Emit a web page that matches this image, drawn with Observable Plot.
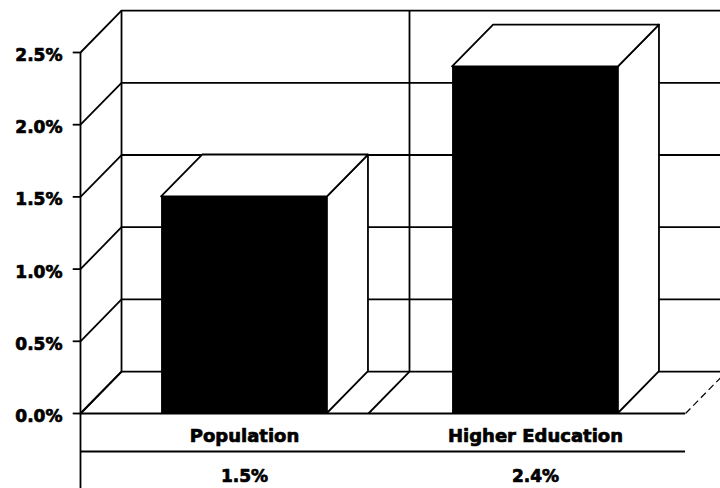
<!DOCTYPE html>
<html>
<head>
<meta charset="utf-8">
<script src="https://cdn.jsdelivr.net/npm/d3@7"></script>
<script src="https://cdn.jsdelivr.net/npm/@observablehq/plot@0.6"></script>
<style>
  html, body { margin: 0; padding: 0; background: #fff; }
  #chart svg { display: block; }
</style>
</head>
<body>
<div id="chart"></div>
<script>
// ---- data ----
const categories = ["Population", "Higher Education"];
const values = [1.5, 2.4];
const valueLabels = ["1.5%", "2.4%"];
const yTicks = [0, 0.5, 1.0, 1.5, 2.0, 2.5];
const yTickLabels = ["0.0%", "0.5%", "1.0%", "1.5%", "2.0%", "2.5%"];

// ---- 3D frame layout constants (in scale units) ----
const DX = 0.141;      // depth offset along x
const DY = 0.29;       // depth offset along y
const XL = -0.0636;    // left edge of floor / side wall
const XR = 2.0155;     // right edge of floor
const DIV = 0.926;     // floor divider between categories
const XFAR = 2.35;     // back wall runs off the right edge
const BW = 0.57;       // bar width
const YBOT = -0.54;    // axis line runs down through the table
const YTOP = 2.5;

const bars = categories.map((c, i) => ({
  category: c,
  value: values[i],
  label: valueLabels[i],
  cx: i + 0.5,
  a: i + 0.5 - BW / 2,
  b: i + 0.5 + BW / 2
}));
const sides = bars.flatMap(d => [
  {category: d.category, x: d.b, y1: 0, y2: d.value},
  {category: d.category, x: d.b + DX, y1: DY, y2: d.value + DY}
]);
const tops = bars.flatMap(d => [
  {category: d.category, y: d.value, x1: d.a, x2: d.b},
  {category: d.category, y: d.value + DY, x1: d.a + DX, x2: d.b + DX}
]);
const ticks = yTicks.map((v, i) => ({v, label: yTickLabels[i]}));

const SW = 1.8;
const font = "'DejaVu Sans', sans-serif";
const heavy = {fontWeight: "bold", fill: "black", stroke: "black", strokeWidth: 0.7};

const chart = Plot.plot({
  width: 720,
  height: 488,
  marginTop: 0, marginRight: 0, marginBottom: 0, marginLeft: 0,
  style: {background: "#fff", fontFamily: font},
  x: {type: "linear", domain: [0, 2], range: [98.5, 680.5], axis: null},
  y: {type: "linear", domain: [0, 2.5], range: [413, 52], axis: null},
  marks: [
    // back wall gridlines
    Plot.ruleY(ticks, {y: d => d.v + DY, x1: XL + DX, x2: XFAR, stroke: "black", strokeWidth: SW}),
    // back wall verticals
    Plot.ruleX([XL + DX, DIV + DX], {x: d => d, y1: DY, y2: YTOP + DY, stroke: "black", strokeWidth: SW}),
    // side wall diagonals
    Plot.link(ticks, {x1: XL, y1: d => d.v, x2: XL + DX, y2: d => d.v + DY, stroke: "black", strokeWidth: SW}),
    // floor diagonals
    Plot.link([XL, DIV], {x1: d => d, y1: 0, x2: d => d + DX, y2: DY, stroke: "black", strokeWidth: SW}),
    Plot.link([XR], {x1: d => d, y1: 0, x2: d => d + DX, y2: DY, stroke: "black", strokeWidth: 1.2, strokeDasharray: "7,4"}),
    // floor front edge
    Plot.ruleY([0], {x1: XL, x2: XR, stroke: "black", strokeWidth: SW}),
    // left axis line
    Plot.ruleX([XL], {y1: YBOT, y2: YTOP, stroke: "black", strokeWidth: SW}),
    // tick marks
    Plot.ruleY(ticks, {y: "v", x1: XL - 0.025, x2: XL, stroke: "black", strokeWidth: SW}),
    // bars: front faces
    Plot.rect(bars, {x1: "a", x2: "b", y1: 0, y2: "value", fill: "black"}),
    // bars: side faces
    Plot.areaY(sides, {x: "x", y1: "y1", y2: "y2", z: "category", fill: "white", stroke: "black", strokeWidth: SW}),
    // bars: top faces
    Plot.areaX(tops, {y: "y", x1: "x1", x2: "x2", z: "category", fill: "white", stroke: "black", strokeWidth: SW}),
    // y tick labels
    Plot.text(ticks, {x: XL, y: "v", text: "label", textAnchor: "end", dx: -18, dy: 3, fontSize: 17, ...heavy}),
    // data table
    Plot.ruleY([0], {x1: XL, x2: XR, dy: 38, stroke: "black", strokeWidth: SW}),
    Plot.text(bars, {x: "cx", y: 0, text: "category", dy: 23, fontSize: 18, ...heavy}),
    Plot.text(bars, {x: "cx", y: 0, text: "label", dy: 63, fontSize: 17, ...heavy})
  ]
});
document.getElementById("chart").append(chart);
</script>
</body>
</html>
